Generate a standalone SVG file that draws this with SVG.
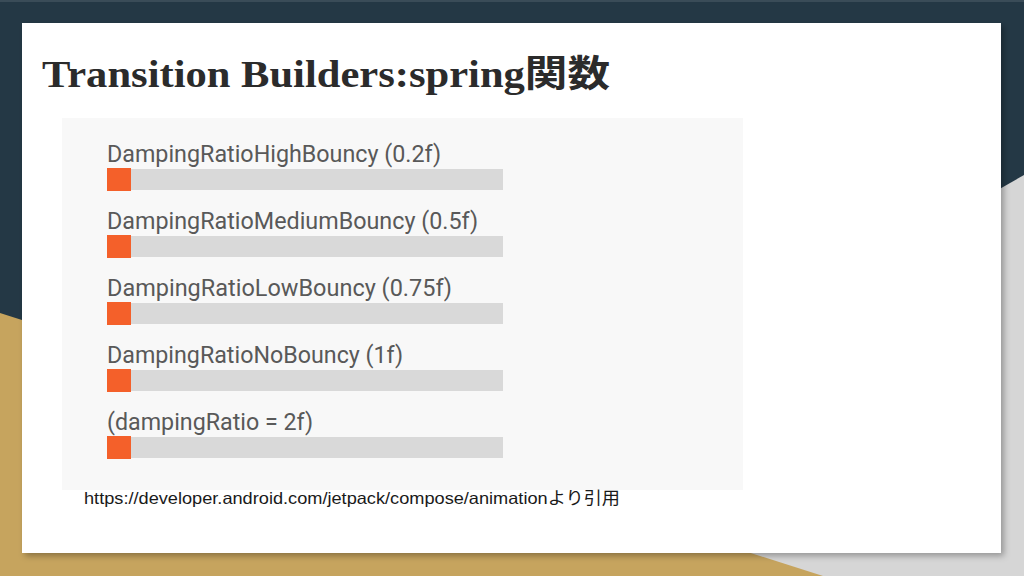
<svg xmlns="http://www.w3.org/2000/svg" width="1024" height="576" viewBox="0 0 1024 576">
  <defs>
    <filter id="shadow" x="-5%" y="-5%" width="110%" height="110%">
      <feDropShadow dx="3" dy="3" stdDeviation="3" flood-color="#000" flood-opacity="0.3"/>
    </filter>
    <style>
      .lbl { font-family: Roboto, "Noto Sans", sans-serif; font-size: 23px; fill: #595959; }
      .knob { fill: #f4602a; }
      .track { fill: #d9d9d9; }
    </style>
  </defs>
  <g id="background">
    <rect x="0" y="0" width="1024" height="576" fill="#243845"/>
    <rect x="0" y="0" width="1024" height="2" fill="#3a4c58"/>
    <polygon points="1024,175 1024,576 320,576" fill="#d6d6d6"/>
    <polygon points="0,313 823,576 0,576" fill="#c6a45e"/>
  </g>
  <g id="card">
    <rect x="22" y="23" width="979" height="530" fill="#ffffff" filter="url(#shadow)"/>
  </g>
  <g id="title">
    <text x="42" y="87" font-family="'Liberation Serif', 'Noto Sans CJK JP', serif" font-weight="bold" font-size="37" fill="#2b2b2b" textLength="568" lengthAdjust="spacingAndGlyphs">Transition Builders:spring関数</text>
  </g>
  <g id="figure">
    <rect x="62" y="118" width="681" height="372" fill="#f8f8f8"/>
    <g id="bar1">
      <text class="lbl" x="107" y="162" textLength="334" lengthAdjust="spacingAndGlyphs">DampingRatioHighBouncy (0.2f)</text>
      <rect class="track" x="131" y="169" width="372" height="21"/>
      <rect class="knob" x="107" y="168" width="24" height="23"/>
    </g>
    <g id="bar2">
      <text class="lbl" x="107" y="229" textLength="371" lengthAdjust="spacingAndGlyphs">DampingRatioMediumBouncy (0.5f)</text>
      <rect class="track" x="131" y="236" width="372" height="21"/>
      <rect class="knob" x="107" y="235" width="24" height="23"/>
    </g>
    <g id="bar3">
      <text class="lbl" x="107" y="296" textLength="345" lengthAdjust="spacingAndGlyphs">DampingRatioLowBouncy (0.75f)</text>
      <rect class="track" x="131" y="303" width="372" height="21"/>
      <rect class="knob" x="107" y="302" width="24" height="23"/>
    </g>
    <g id="bar4">
      <text class="lbl" x="107" y="363" textLength="296" lengthAdjust="spacingAndGlyphs">DampingRatioNoBouncy (1f)</text>
      <rect class="track" x="131" y="370" width="372" height="21"/>
      <rect class="knob" x="107" y="369" width="24" height="23"/>
    </g>
    <g id="bar5">
      <text class="lbl" x="107" y="430" textLength="206" lengthAdjust="spacingAndGlyphs">(dampingRatio = 2f)</text>
      <rect class="track" x="131" y="437" width="372" height="21"/>
      <rect class="knob" x="107" y="436" width="24" height="23"/>
    </g>
  </g>
  <g id="caption">
    <text x="84" y="504" font-family="'Liberation Sans', 'Noto Sans CJK JP', sans-serif" font-size="16.5" fill="#1a1a1a" textLength="536" lengthAdjust="spacingAndGlyphs">https://developer.android.com/jetpack/compose/animationより引用</text>
  </g>
</svg>
